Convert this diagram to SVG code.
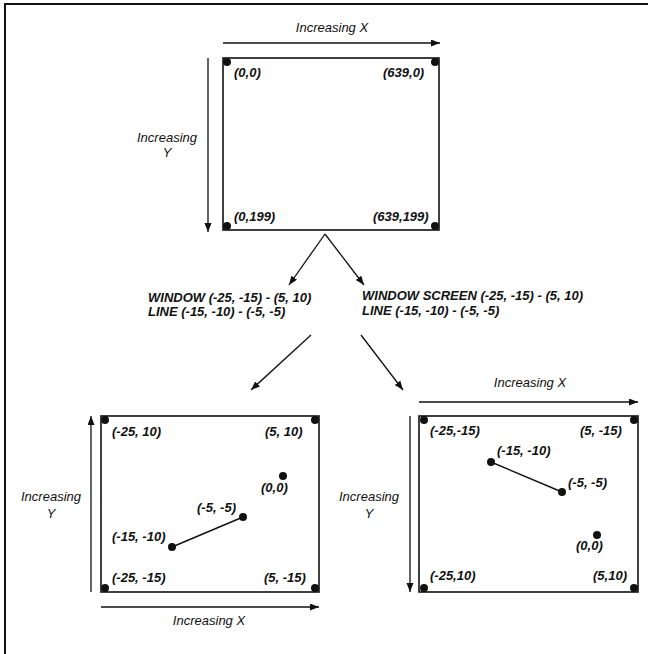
<svg xmlns="http://www.w3.org/2000/svg" width="648" height="654" viewBox="0 0 648 654">
<style>
text{font-family:"Liberation Sans",Arial,sans-serif;font-style:italic;font-size:13px;fill:#111}
.b{font-weight:bold}
.c{text-anchor:middle}
.box{fill:none;stroke:#111;stroke-width:1.6}
.ax{fill:none;stroke:#111;stroke-width:1.3;marker-end:url(#ah)}
.dot{fill:#111}
.seg{stroke:#111;stroke-width:1.4}
</style>
<defs>
<marker id="ah" markerUnits="userSpaceOnUse" markerWidth="10" markerHeight="8" refX="9" refY="3.5" orient="auto">
<path d="M0,0 L9,3.5 L0,7 z" fill="#111"/>
</marker>
</defs>
<rect width="648" height="654" fill="#fff"/>
<g id="frame">
<path d="M5,654 V4 H648" fill="none" stroke="#111" stroke-width="2"/>
</g>
<g id="screen">
<rect class="box" x="223" y="58" width="216" height="172"/>
<circle class="dot" cx="227" cy="62" r="4"/>
<circle class="dot" cx="435" cy="62" r="4"/>
<circle class="dot" cx="227" cy="226" r="4"/>
<circle class="dot" cx="435" cy="226" r="4"/>
<text class="b" x="234" y="77">(0,0)</text>
<text class="b" x="383" y="77">(639,0)</text>
<text class="b" x="234" y="221">(0,199)</text>
<text class="b" x="373" y="221">(639,199)</text>
<path class="ax" d="M223,43 H440"/>
<text class="c" x="332" y="32">Increasing X</text>
<path class="ax" d="M208,58 V232"/>
<text class="c" x="167" y="142">Increasing</text>
<text class="c" x="167" y="157">Y</text>
</g>
<g id="label-window">
<text class="b" x="148" y="302">WINDOW (-25, -15) - (5, 10)</text>
<text class="b" x="148" y="316">LINE (-15, -10) - (-5, -5)</text>
</g>
<g id="label-window-screen">
<text class="b" x="362" y="300">WINDOW SCREEN (-25, -15) - (5, 10)</text>
<text class="b" x="362" y="315">LINE (-15, -10) - (-5, -5)</text>
</g>
<g id="window">
<rect class="box" x="101" y="416" width="218" height="176"/>
<circle class="dot" cx="105" cy="420" r="4"/>
<circle class="dot" cx="315" cy="420" r="4"/>
<circle class="dot" cx="105" cy="588" r="4"/>
<circle class="dot" cx="315" cy="588" r="4"/>
<line class="seg" x1="172" y1="547" x2="243" y2="517"/>
<circle class="dot" cx="172" cy="547" r="4"/>
<circle class="dot" cx="243" cy="517" r="4"/>
<circle class="dot" cx="283" cy="476" r="4"/>
<text class="b" x="112" y="436">(-25, 10)</text>
<text class="b" x="265" y="436">(5, 10)</text>
<text class="b" x="261" y="492">(0,0)</text>
<text class="b" x="197" y="512">(-5, -5)</text>
<text class="b" x="112" y="541">(-15, -10)</text>
<text class="b" x="112" y="582">(-25, -15)</text>
<text class="b" x="264" y="582">(5, -15)</text>
<path class="ax" d="M91,592 V416"/>
<text class="c" x="51" y="501">Increasing</text>
<text class="c" x="51" y="518">Y</text>
<path class="ax" d="M101,607 H319"/>
<text class="c" x="209" y="625">Increasing X</text>
</g>
<g id="window-screen">
<rect class="box" x="419" y="416" width="219" height="176"/>
<circle class="dot" cx="424" cy="420" r="4"/>
<circle class="dot" cx="634" cy="420" r="4"/>
<circle class="dot" cx="424" cy="588" r="4"/>
<circle class="dot" cx="634" cy="588" r="4"/>
<line class="seg" x1="491" y1="462" x2="562" y2="492"/>
<circle class="dot" cx="491" cy="462" r="4"/>
<circle class="dot" cx="562" cy="492" r="4"/>
<circle class="dot" cx="597" cy="535" r="4"/>
<text class="b" x="430" y="435">(-25,-15)</text>
<text class="b" x="580" y="435">(5, -15)</text>
<text class="b" x="497" y="455">(-15, -10)</text>
<text class="b" x="568" y="487">(-5, -5)</text>
<text class="b" x="576" y="550">(0,0)</text>
<text class="b" x="430" y="580">(-25,10)</text>
<text class="b" x="593" y="580">(5,10)</text>
<path class="ax" d="M419,402 H638"/>
<text class="c" x="530" y="387">Increasing X</text>
<path class="ax" d="M410,416 V592"/>
<text class="c" x="369" y="501">Increasing</text>
<text class="c" x="369" y="518">Y</text>
</g>
<g id="connectors">
<path class="ax" d="M325,234 L289,285"/>
<path class="ax" d="M325,234 L364,285"/>
<path class="ax" d="M311,335 L251,390"/>
<path class="ax" d="M361,335 L403,390"/>
</g>
</svg>
